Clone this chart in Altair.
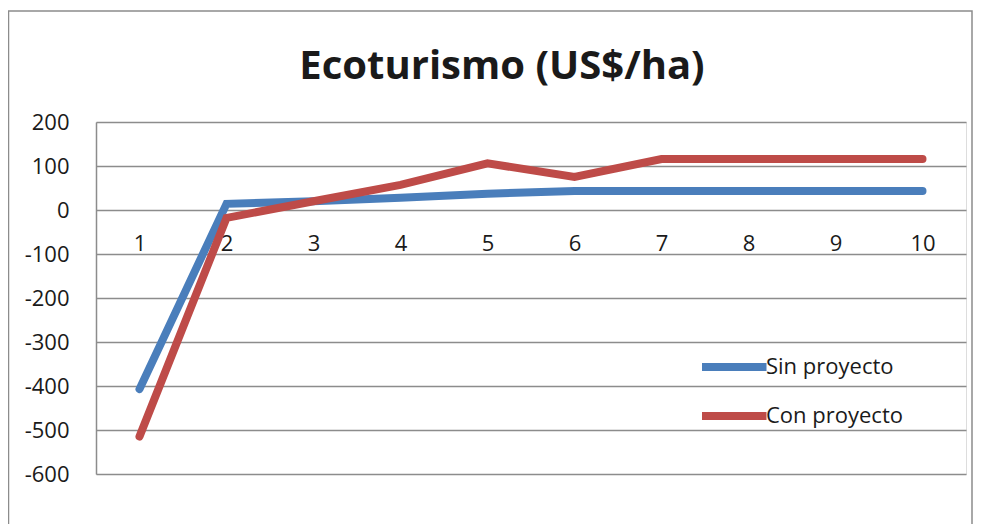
import altair as alt
import pandas as pd

years = [1, 2, 3, 4, 5, 6, 7, 8, 9, 10]
sin_proyecto = [-407, 14, 20, 28, 37, 43, 43, 43, 43, 43]
con_proyecto = [-515, -18, 20, 57, 106, 75, 116, 116, 116, 116]
series_names = ["Sin proyecto", "Con proyecto"]
series_colors = ["#4a7ebb", "#be4b48"]
y_ticks = [200, 100, 0, -100, -200, -300, -400, -500, -600]

rows = []
for name, vals in zip(series_names, [sin_proyecto, con_proyecto]):
    for yr, v in zip(years, vals):
        rows.append({"Año": yr, "Valor": v, "Serie": name})
df = pd.DataFrame(rows)

FONT = "Open Sans"
W, H = 870, 352

frame = alt.Chart(pd.DataFrame({"a": [0]})).mark_rect(
    fill=None, stroke="#8c8c8c", strokeWidth=1.5
).encode(
    x=alt.value(-87.5), x2=alt.value(876), y=alt.value(-111), y2=alt.value(460)
)

lines = alt.Chart(df).mark_line(strokeWidth=8, strokeCap="round").encode(
    x=alt.X("Año:O", scale=alt.Scale(type="point", padding=0.5),
            axis=alt.Axis(title=None, labelAngle=0, domain=False, ticks=False,
                          labelFontSize=22, labelFont=FONT, labelColor="#1a1a1a",
                          labelPadding=23, offset=-264, grid=False)),
    y=alt.Y("Valor:Q", scale=alt.Scale(domain=[-600, 200], nice=False),
            axis=alt.Axis(title=None, values=y_ticks, ticks=False, domain=True,
                          domainColor="#8c8c8c", domainWidth=1.5,
                          gridColor="#8c8c8c", gridWidth=1.5,
                          labelFontSize=22, labelFont=FONT, labelColor="#1a1a1a",
                          labelPadding=27, labelExpr="'' + datum.value")),
    color=alt.Color("Serie:N", scale=alt.Scale(domain=series_names, range=series_colors),
                    legend=alt.Legend(title=None, orient="none", legendX=632, legendY=226,
                                      symbolType="M-3,0H1.3", symbolSize=900,
                                      symbolStrokeWidth=8, labelFontSize=22,
                                      labelFont=FONT, labelColor="#1a1a1a",
                                      labelOffset=0, rowPadding=14)),
    detail="Serie:N",
)

chart = alt.layer(frame, lines).properties(
    width=W, height=H,
    title=alt.TitleParams("Ecoturismo (US$/ha)", font=FONT, fontSize=40, fontWeight="bold",
                          color="#1a1a1a", anchor="middle", dx=-29, frame="group",
                          baseline="alphabetic", offset=0, dy=109),
    autosize=alt.AutoSizeParams(type="none"),
    padding={"left": 88, "top": 114, "right": 7, "bottom": 50},
).configure_view(stroke=None).configure(background="white")

chart.save("out.html", embed_options={"renderer": "svg", "actions": False})
